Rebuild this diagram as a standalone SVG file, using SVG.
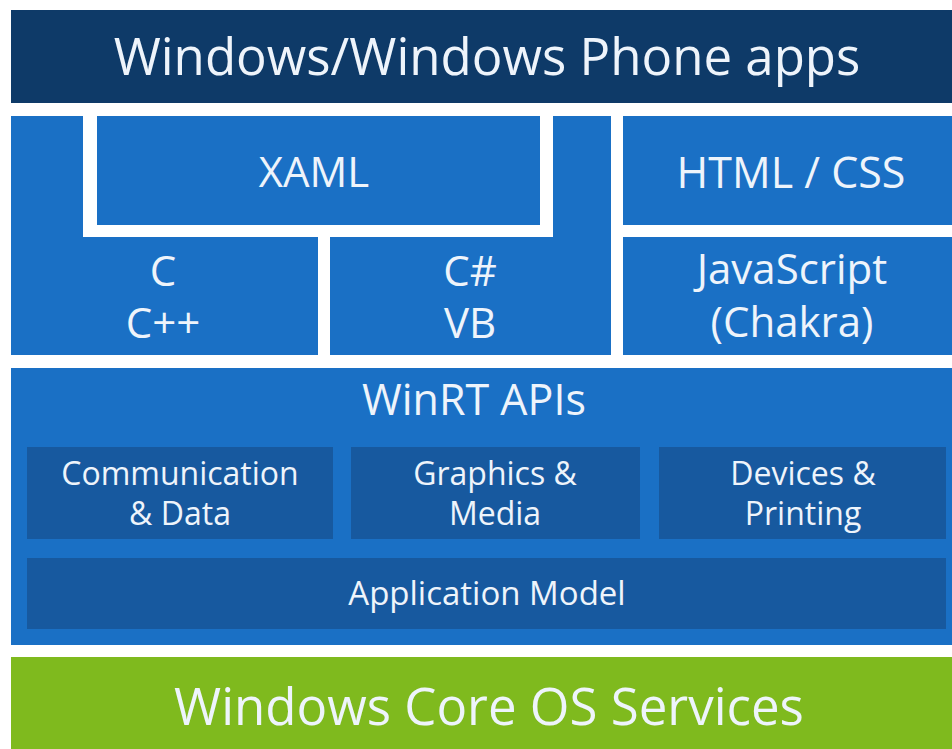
<svg xmlns="http://www.w3.org/2000/svg" width="952" height="749" viewBox="0 0 952 749">
<style>
.navy{fill:#0e3a68}
.blue{fill:#1a70c5}
.dark{fill:#17599f}
.green{fill:#7fba1e}
text{font-family:"Open Sans","Noto Sans","DejaVu Sans",sans-serif;fill:#eef4fb;text-anchor:middle}
.xl{font-size:51px}
.l{font-size:42px}
.s{font-size:32px}
.m{font-size:33px}
</style>
<rect width="952" height="749" fill="#ffffff"/>
<g id="apps">
<rect class="navy" x="11" y="10" width="941" height="93"/>
<text class="xl" x="487" y="75">Windows/Windows Phone apps</text>
</g>
<g id="c-cpp">
<path class="blue" d="M11,116 H83 V237 H318 V355 H11 Z"/>
<text class="l" x="163" y="286">C</text>
<text class="l" x="163" y="338">C++</text>
</g>
<g id="xaml">
<rect class="blue" x="97" y="116" width="443" height="109"/>
<text class="l" x="314" y="187">XAML</text>
</g>
<g id="csharp-vb">
<path class="blue" d="M553,116 H611 V355 H330 V237 H553 Z"/>
<text class="l" x="470" y="286">C#</text>
<text class="l" x="470" y="338">VB</text>
</g>
<g id="html-css">
<rect class="blue" x="623" y="116" width="329" height="109"/>
<text class="l" x="791" y="188" style="font-size:43px">HTML / CSS</text>
</g>
<g id="javascript">
<rect class="blue" x="623" y="237" width="329" height="118"/>
<text class="l" x="792" y="284">JavaScript</text>
<text class="l" x="792" y="337">(Chakra)</text>
</g>
<g id="winrt">
<rect class="blue" x="11" y="368" width="941" height="277"/>
<text class="l" x="474" y="415" style="font-size:43px">WinRT APIs</text>
</g>
<g id="communication">
<rect class="dark" x="27" y="447" width="306" height="92"/>
<text class="s" x="180" y="485">Communication</text>
<text class="s" x="180" y="525">&amp; Data</text>
</g>
<g id="graphics">
<rect class="dark" x="351" y="447" width="289" height="92"/>
<text class="s" x="495" y="485">Graphics &amp;</text>
<text class="s" x="495" y="525">Media</text>
</g>
<g id="devices">
<rect class="dark" x="659" y="447" width="287" height="92"/>
<text class="s" x="803" y="485">Devices &amp;</text>
<text class="s" x="803" y="525">Printing</text>
</g>
<g id="appmodel">
<rect class="dark" x="27" y="558" width="919" height="71"/>
<text class="m" x="487" y="605">Application Model</text>
</g>
<g id="coreos">
<rect class="green" x="11" y="657" width="941" height="92"/>
<text class="xl" x="489" y="725">Windows Core OS Services</text>
</g>
<g id="connectors"/>
</svg>
